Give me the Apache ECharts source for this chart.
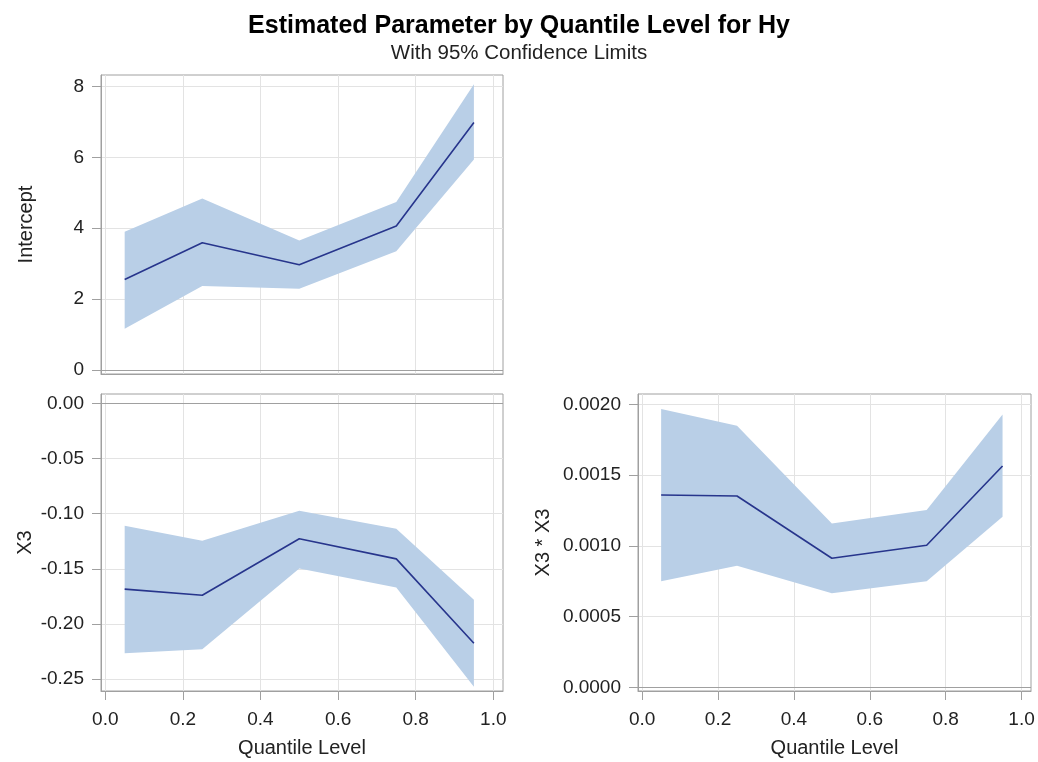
<!DOCTYPE html>
<html>
<head>
<meta charset="utf-8">
<script src="https://cdn.jsdelivr.net/npm/echarts@6/dist/echarts.min.js"></script>
<style>
  html, body { margin: 0; padding: 0; background: #ffffff; }
  #chart { width: 1038px; height: 762px; }
</style>
</head>
<body>
<div id="chart"></div>
<script>
// Quantile levels at which the model was fitted
const quantiles = [0.05, 0.25, 0.5, 0.75, 0.95];

// Intercept: estimate and 95% confidence limits
const interceptEst   = [2.55, 3.59, 2.97, 4.06, 6.99];
const interceptUpper = [3.90, 4.84, 3.65, 4.74, 8.07];
const interceptLower = [1.16, 2.37, 2.29, 3.35, 5.94];

// X3: estimate and 95% confidence limits
const x3Est   = [-0.1685, -0.1740, -0.1227, -0.1410, -0.2176];
const x3Upper = [-0.1110, -0.1245, -0.0973, -0.1136, -0.1780];
const x3Lower = [-0.2267, -0.2230, -0.1497, -0.1670, -0.2570];

// X3 * X3: estimate and 95% confidence limits
const x3sqEst   = [0.001359, 0.001352, 0.000912, 0.001004, 0.001564];
const x3sqUpper = [0.001967, 0.001849, 0.001157, 0.001253, 0.001929];
const x3sqLower = [0.000749, 0.000860, 0.000664, 0.000749, 0.001206];

// Tick values
const quantileTicks  = [0, 0.2, 0.4, 0.6, 0.8, 1.0];
const interceptTicks = [0, 2, 4, 6, 8];
const x3Ticks        = [-0.25, -0.20, -0.15, -0.10, -0.05, 0];
const x3sqTicks      = [0, 0.0005, 0.0010, 0.0015, 0.0020];

const FONT = '"Liberation Sans", Arial, sans-serif';
const BAND = '#b9cfe7';
const LINE = '#27358c';
const FRAME = '#a0a0a0';
const GRIDLINE = '#e3e3e3';
const TEXT = '#222222';

function pairs(xs, ys) { return xs.map((x, i) => [x, ys[i]]); }

function xAxisFor(gridIndex, showLabels) {
  return {
    type: 'value', gridIndex,
    min: -0.011, max: 1.025,
    name: showLabels ? 'Quantile Level' : '',
    nameLocation: 'middle', nameGap: 47,
    nameTextStyle: { fontFamily: FONT, fontSize: 20, color: TEXT },
    axisLine: { show: true, onZero: false, lineStyle: { color: FRAME, width: 1 } },
    axisTick: { show: showLabels, customValues: quantileTicks, length: 9, lineStyle: { color: FRAME } },
    axisLabel: { show: showLabels, customValues: quantileTicks, margin: 19,
      fontFamily: FONT, fontSize: 19, color: TEXT, formatter: v => v.toFixed(1) },
    splitLine: { show: true, customValues: quantileTicks, lineStyle: { color: GRIDLINE, width: 1 } }
  };
}

function yAxisFor(gridIndex, name, min, max, ticks, digits, nameGap) {
  return {
    type: 'value', gridIndex, min, max,
    name, nameLocation: 'middle', nameGap,
    nameTextStyle: { fontFamily: FONT, fontSize: 20, color: TEXT },
    axisLine: { show: true, onZero: false, lineStyle: { color: FRAME, width: 1 } },
    axisTick: { show: true, customValues: ticks, length: 9, lineStyle: { color: FRAME } },
    axisLabel: { show: true, customValues: ticks, margin: 17,
      fontFamily: FONT, fontSize: 19, color: TEXT, formatter: v => v.toFixed(digits) },
    splitLine: { show: true, customValues: ticks, lineStyle: { color: GRIDLINE, width: 1 } }
  };
}

// Confidence band: one polygon running along the upper limits and back along the lower limits
function bandSeries(idx, lo, hi) {
  const data = quantiles.map((q, i) => [q, lo[i], hi[i]]);
  return {
    type: 'custom', xAxisIndex: idx, yAxisIndex: idx, data, silent: true, z: 2,
    encode: { x: 0, y: [1, 2] },
    renderItem: (params, api) => {
      if (params.dataIndex !== 0) return;
      const upperPts = data.map(d => api.coord([d[0], d[2]]));
      const lowerPts = data.slice().reverse().map(d => api.coord([d[0], d[1]]));
      return { type: 'polygon', shape: { points: upperPts.concat(lowerPts) }, style: { fill: BAND } };
    }
  };
}

function panelSeries(idx, est, lo, hi) {
  return [
    bandSeries(idx, lo, hi),
    { type: 'line', xAxisIndex: idx, yAxisIndex: idx, data: pairs(quantiles, est),
      symbol: 'none', lineStyle: { color: LINE, width: 1.6 }, silent: true, z: 4,
      markLine: { silent: true, symbol: 'none', label: { show: false },
        lineStyle: { color: FRAME, type: 'solid', width: 1 },
        data: [{ yAxis: 0 }] } }
  ];
}

const chart = echarts.init(document.getElementById('chart'), null, { renderer: 'canvas' });

chart.setOption({
  animation: false,
  backgroundColor: '#ffffff',
  title: [
    { text: 'Estimated Parameter by Quantile Level for Hy', left: 'center', top: 9,
      textStyle: { fontFamily: FONT, fontSize: 25, fontWeight: 'bold', color: '#000000' } },
    { text: 'With 95% Confidence Limits', left: 'center', top: 38,
      textStyle: { fontFamily: FONT, fontSize: 20.5, fontWeight: 'normal', color: TEXT } }
  ],
  grid: [
    { left: 101, top: 75, width: 402, height: 299, show: true, borderColor: FRAME, borderWidth: 1, backgroundColor: 'transparent' },
    { left: 101, top: 394, width: 402, height: 297, show: true, borderColor: FRAME, borderWidth: 1, backgroundColor: 'transparent' },
    { left: 638, top: 394, width: 393, height: 297, show: true, borderColor: FRAME, borderWidth: 1, backgroundColor: 'transparent' }
  ],
  xAxis: [xAxisFor(0, false), xAxisFor(1, true), xAxisFor(2, true)],
  yAxis: [
    yAxisFor(0, 'Intercept', -0.12, 8.33, interceptTicks, 0, 65),
    yAxisFor(1, 'X3', -0.2609, 0.0086, x3Ticks, 2, 66),
    yAxisFor(2, 'X3 * X3', -0.000026, 0.002073, x3sqTicks, 4, 85)
  ],
  series: [
    ...panelSeries(0, interceptEst, interceptLower, interceptUpper),
    ...panelSeries(1, x3Est, x3Lower, x3Upper),
    ...panelSeries(2, x3sqEst, x3sqLower, x3sqUpper)
  ]
});
</script>
</body>
</html>
